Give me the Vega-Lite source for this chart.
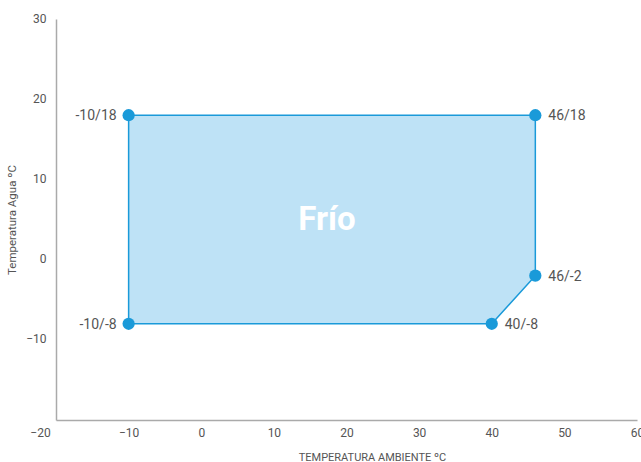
{
  "$schema": "https://vega.github.io/schema/vega-lite/v6.json",
  "width": 581,
  "height": 401,
  "autosize": {"type": "none"},
  "padding": {"left": 56, "top": 19, "right": 4, "bottom": 42},
  "background": "white",
  "config": {
    "view": {"stroke": null},
    "font": "Roboto",
    "axis": {
      "grid": false,
      "ticks": false,
      "domainColor": "#aaaaaa",
      "domainWidth": 1.5,
      "labelColor": "#555555",
      "labelFont": "Roboto",
      "labelFontSize": 12,
      "titleFont": "Roboto",
      "titleFontSize": 11,
      "titleFontWeight": "normal",
      "titleColor": "#555555"
    }
  },
  "datasets": {
    "zone": [
      {"x": -10, "top": 18, "bottom": -8},
      {"x": 40, "top": 18, "bottom": -8},
      {"x": 46, "top": 18, "bottom": -2}
    ],
    "points": [
      {"x": -10, "y": 18, "label": "-10/18", "side": "left"},
      {"x": 46, "y": 18, "label": "46/18", "side": "right"},
      {"x": 46, "y": -2, "label": "46/-2", "side": "right"},
      {"x": 40, "y": -8, "label": "40/-8", "side": "right"},
      {"x": -10, "y": -8, "label": "-10/-8", "side": "left"}
    ],
    "title": [{"x": 17.3, "y": 5, "label": "Frío"}]
  },
  "layer": [
    {
      "data": {"name": "zone"},
      "mark": {"type": "area", "fill": "#bee2f6", "stroke": "#1a9ad9", "strokeWidth": 1.5, "fillOpacity": 1},
      "encoding": {
        "x": {"field": "x", "type": "quantitative", "scale": {"domain": [-20, 60], "nice": false, "zero": false},
          "axis": {"values": [-20, -10, 0, 10, 20, 30, 40, 50, 60], "title": "TEMPERATURA AMBIENTE ºC", "labelPadding": 7, "titlePadding": 13, "titleX": 316, "labelFlush": false, "labelOffset": {"expr": "datum.value == -20 ? -16 : 0"}}},
        "y": {"field": "top", "type": "quantitative", "scale": {"domain": [-20, 30], "nice": false, "zero": false},
          "axis": {"values": [-10, 0, 10, 20, 30], "title": "Temperatura Agua ºC", "titleFontSize": 11.5, "labelPadding": 10, "titlePadding": 8, "labelBaseline": "middle", "labelOffset": -1}},
        "y2": {"field": "bottom"}
      }
    },
    {
      "data": {"name": "points"},
      "mark": {"type": "point", "filled": true, "opacity": 1, "size": 150, "color": "#1a9ad9"},
      "encoding": {
        "x": {"field": "x", "type": "quantitative"},
        "y": {"field": "y", "type": "quantitative"}
      }
    },
    {
      "data": {"name": "points"},
      "transform": [{"filter": "datum.side == 'right'"}],
      "mark": {"type": "text", "align": "left", "dx": 13, "dy": 1, "fontSize": 14, "color": "#555555", "font": "Roboto"},
      "encoding": {
        "x": {"field": "x", "type": "quantitative"},
        "y": {"field": "y", "type": "quantitative"},
        "text": {"field": "label"}
      }
    },
    {
      "data": {"name": "points"},
      "transform": [{"filter": "datum.side == 'left'"}],
      "mark": {"type": "text", "align": "right", "dx": -12, "dy": 1, "fontSize": 14, "color": "#555555", "font": "Roboto"},
      "encoding": {
        "x": {"field": "x", "type": "quantitative"},
        "y": {"field": "y", "type": "quantitative"},
        "text": {"field": "label"}
      }
    },
    {
      "data": {"name": "title"},
      "mark": {"type": "text", "align": "center", "baseline": "middle", "fontSize": 33, "fontWeight": "bold", "color": "white", "font": "Roboto"},
      "encoding": {
        "x": {"field": "x", "type": "quantitative"},
        "y": {"field": "y", "type": "quantitative"},
        "text": {"field": "label"}
      }
    }
  ]
}
